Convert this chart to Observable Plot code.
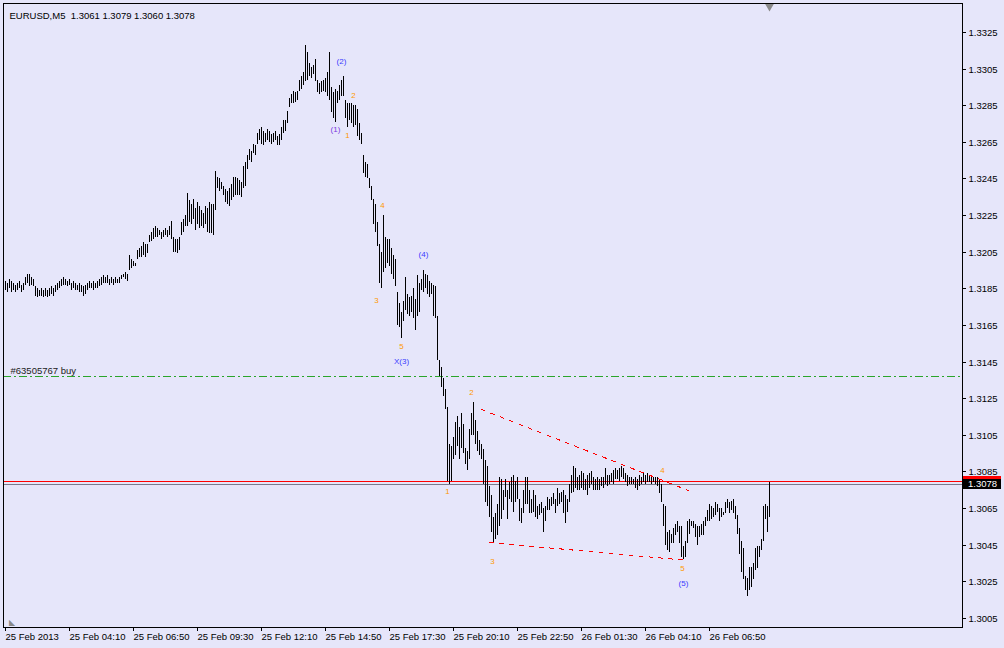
<!DOCTYPE html>
<html><head><meta charset="utf-8">
<script src="https://cdn.jsdelivr.net/npm/d3@7"></script>
<script src="https://cdn.jsdelivr.net/npm/@observablehq/plot@0.6"></script>
<style>
html,body{margin:0;padding:0;background:#E6E6FA;}
#chart{width:1004px;height:648px;overflow:hidden;}
</style></head><body><div id="chart"></div>
<script>
// ---- data ----
const symbolTitle = "EURUSD,M5\u00a0\u00a01.3061 1.3079 1.3060 1.3078";
const pipBase = 1.3;          // prices below are in pips above 1.3000
const pipSize = 0.0001;
const highs = [
189,188,190,189,188,187,188,189,187,188,
191,193,193,191,190,186,185,184,185,184,
185,184,185,186,185,187,188,189,190,191,
190,189,190,188,189,188,187,188,187,186,
187,188,189,188,189,188,189,190,191,192,
191,192,190,191,190,191,190,191,192,193,
194,193,203,201,200,199,206,207,208,210,
209,209,214,216,218,219,218,217,216,217,
218,217,219,222,213,212,212,213,221,223,
225,237,233,231,234,229,232,230,228,226,
230,229,232,231,231,249,246,245,243,241,
239,238,240,242,246,246,245,244,243,252,
254,258,261,260,264,263,270,272,273,271,
270,272,271,269,270,271,268,269,273,277,
277,282,289,291,293,292,293,299,301,303,
318,314,308,306,307,310,299,297,298,299,
300,303,314,295,292,294,293,296,299,301,
288,286,286,286,285,285,283,275,270,258,
254,253,245,241,234,231,221,209,205,225,
213,212,212,207,203,201,183,177,172,178,
191,182,180,181,185,179,192,188,190,195,
193,192,189,188,187,186,170,146,142,136,
130,120,100,99,104,112,115,109,117,111,
98,96,108,117,123,113,107,102,100,97,
91,88,77,72,60,62,67,82,81,75,
81,75,79,82,83,80,82,70,65,75,
82,82,75,70,75,72,66,67,68,65,
66,71,70,71,73,70,76,73,74,75,
72,70,78,83,88,87,82,83,85,84,
81,83,84,85,82,81,82,81,82,82,
87,83,83,84,86,87,86,87,88,87,
84,83,82,82,81,82,81,83,82,84,
83,84,83,82,82,82,82,81,78,67,
66,52,53,51,54,56,58,55,55,44,
47,58,59,58,58,56,55,55,56,58,
60,64,67,66,65,68,67,65,65,63,
68,70,68,69,70,66,61,54,47,43,
28,27,33,33,35,43,44,44,48,66,
67,66,79];
const lows = [
184,183,185,183,184,183,184,185,183,184,
187,188,186,187,186,181,180,181,181,180,
181,180,181,182,181,183,184,185,186,187,
187,186,187,184,185,184,184,183,183,181,
182,184,185,185,184,185,185,186,187,188,
188,188,187,188,187,188,188,188,190,191,
190,189,195,196,197,197,201,202,202,203,
202,204,210,211,212,213,213,214,212,213,
214,213,214,212,205,205,204,206,214,216,
219,219,221,220,223,217,220,218,219,218,
220,216,215,215,214,228,240,238,239,236,
232,231,230,233,235,236,236,236,235,240,
241,250,255,254,259,258,264,266,264,263,
265,266,265,264,265,266,263,263,266,270,
271,275,284,286,286,287,288,293,294,296,
298,299,301,300,302,298,292,291,292,293,
292,290,288,281,278,276,286,288,290,290,
278,273,277,275,273,274,268,266,264,248,
246,245,240,233,220,216,208,188,185,194,
196,199,197,193,190,186,165,164,158,167,
173,171,170,172,169,162,170,172,184,183,
185,182,180,182,170,169,146,137,131,126,
119,80,78,80,92,94,99,92,98,95,
89,86,92,105,105,100,96,94,92,78,
68,66,60,52,46,48,50,55,59,64,
71,59,70,68,63,68,70,58,57,62,
67,67,62,62,63,60,59,61,62,52,
58,64,64,66,67,62,66,67,68,62,
57,63,68,73,74,76,75,75,76,75,
75,72,76,78,75,75,75,75,77,76,
78,77,78,79,78,81,81,80,82,81,
79,77,78,78,78,76,75,77,78,79,
78,79,79,78,79,78,77,73,68,55,
45,42,41,46,46,50,52,46,38,37,
38,46,51,55,54,49,45,49,50,50,
55,58,58,59,60,61,63,58,60,61,
62,65,62,64,62,59,51,40,30,26,
20,17,20,22,26,31,32,38,42,47,
59,52,60];
const tickBars = [0,32,64,96,128,160,192,224,256,288,320,352];
const tickLabels = ["25 Feb 2013","25 Feb 04:10","25 Feb 06:50","25 Feb 09:30","25 Feb 12:10","25 Feb 14:50",
  "25 Feb 17:30","25 Feb 20:10","25 Feb 22:50","26 Feb 01:30","26 Feb 04:10","26 Feb 06:50"];
const priceTicks = [1.3005,1.3025,1.3045,1.3065,1.3085,1.3105,1.3125,1.3145,1.3165,1.3185,1.3205,1.3225,1.3245,1.3265,1.3285,1.3305,1.3325];
const orderLevel = 1.3137;
const orderLabel = "#63505767 buy";
const askPrice = 1.3080;
const bidPrice = 1.3078;
const waveText  = ["(2)","(1)","2","1","4","3","(4)","5","X(3)","2","1","3","4","5","(5)"];
const waveBar   = [168,165,174,171,188.5,185.5,209,198,198,233,221,243.5,328.5,338.5,339];
const wavePrice = [1.33089,1.3272,1.32908,1.32689,1.32303,1.31784,1.32038,1.31537,1.31451,1.31282,1.30741,1.30363,1.30856,1.30323,1.30241];
const waveColor = ["#3a3aff","#7a3ae0","#ff9900","#ff9900","#ff9900","#ff9900","#3a3aff","#ff9900","#3a3aff","#ff9900","#ff9900","#ff9900","#ff9900","#ff9900","#3a3aff"];
const upperBars = [238,341.5];
const upperPrices = [1.31191,1.30750];
const lowerBars = [242,341.5];
const lowerPrices = [1.30465,1.30364];
const lastBar = highs.length - 1;

// ---- tables ----
const bars = highs.map((h,i)=>({i, hi: pipBase + h*pipSize, lo: pipBase + lows[i]*pipSize}));
const waves = waveText.map((t,k)=>({t, bar: waveBar[k], price: wavePrice[k], color: waveColor[k]}));
const upper = upperBars.map((b,k)=>({bar:b, price: upperPrices[k]}));
const lower = lowerBars.map((b,k)=>({bar:b, price: lowerPrices[k]}));

const FONT = "'Liberation Sans', Arial, sans-serif";
const chart = Plot.plot({
  width: 1004, height: 648,
  marginLeft: 3, marginRight: 42, marginTop: 3, marginBottom: 21,
  style: {background: "#E6E6FA", fontFamily: FONT, fontSize: "9.5px", color: "#000", overflow: "visible"},
  x: {domain: [-1, 478.5]},
  y: {domain: [1.3000, 1.33408], round: true},
  marks: [
    Plot.ruleY([orderLevel], {stroke: "#2aa52a", strokeDasharray: "8,3,2,3", shapeRendering: "crispEdges"}),
    Plot.ruleY([askPrice], {stroke: "#ff0000", shapeRendering: "crispEdges"}),
    Plot.ruleY([bidPrice], {stroke: "#7a7a8c", shapeRendering: "crispEdges"}),
    Plot.ruleX(bars, {x: "i", y1: "lo", y2: "hi", stroke: "#000", strokeWidth: 1, shapeRendering: "crispEdges"}),
    Plot.line(upper, {x: "bar", y: "price", stroke: "#ff0000", strokeWidth: 1, strokeDasharray: "4,6", shapeRendering: "crispEdges"}),
    Plot.line(lower, {x: "bar", y: "price", stroke: "#ff0000", strokeWidth: 1, strokeDasharray: "4,6", shapeRendering: "crispEdges"}),
    Plot.text(waves, {x: "bar", y: "price", text: "t", fill: "color", fontSize: 8}),
    Plot.text([orderLabel], {text: d => d, y: () => orderLevel, frameAnchor: "left", dx: 7, dy: -6, textAnchor: "start", fill: "#222"}),
    Plot.text([symbolTitle], {text: d => d, frameAnchor: "top-left", dx: 6, dy: 9, textAnchor: "start", fill: "#000"}),
    Plot.dot([bars[lastBar]], {x: "i", frameAnchor: "top", dy: 3, symbol: "triangle", r: 3.2, fill: "#8a8a8a", stroke: null, rotate: 180}),
    Plot.text(["\u25E3"], {text: d => d, frameAnchor: "bottom-left", dx: 5, dy: -3, fill: "#8a8a8a", fontSize: 8}),
    Plot.axisY({anchor: "right", ticks: priceTicks, tickSize: 3, tickPadding: 3, tickFormat: d => d.toFixed(4), label: null, stroke: "#000"}),
    Plot.axisX({anchor: "bottom", ticks: tickBars, tickSize: 4, tickPadding: 2, tickFormat: d => tickLabels[tickBars.indexOf(d)], textAnchor: "start", label: null, stroke: "#000"}),
    Plot.frame({stroke: "#000"})
  ]
});
document.getElementById("chart").appendChild(chart);

// current price tags on the right axis (ask under bid), positioned with Plot's own y scale
const yScale = chart.scale("y");
const svg = d3.select(chart);
const g = svg.append("g");
const askY = yScale.apply(askPrice);
g.append("rect").attr("x", 963).attr("y", askY - 5).attr("width", 38).attr("height", 10).attr("fill", "#ff0000");
const bidY = yScale.apply(bidPrice);
g.append("rect").attr("x", 963).attr("y", bidY - 5).attr("width", 38).attr("height", 10).attr("fill", "#000000");
g.append("text").attr("x", 968).attr("y", bidY).attr("dy", "0.35em").attr("text-anchor", "start")
  .attr("fill", "#fff").attr("font-family", FONT).attr("font-size", "9.5px").text(bidPrice.toFixed(4));
</script>
</body></html>
